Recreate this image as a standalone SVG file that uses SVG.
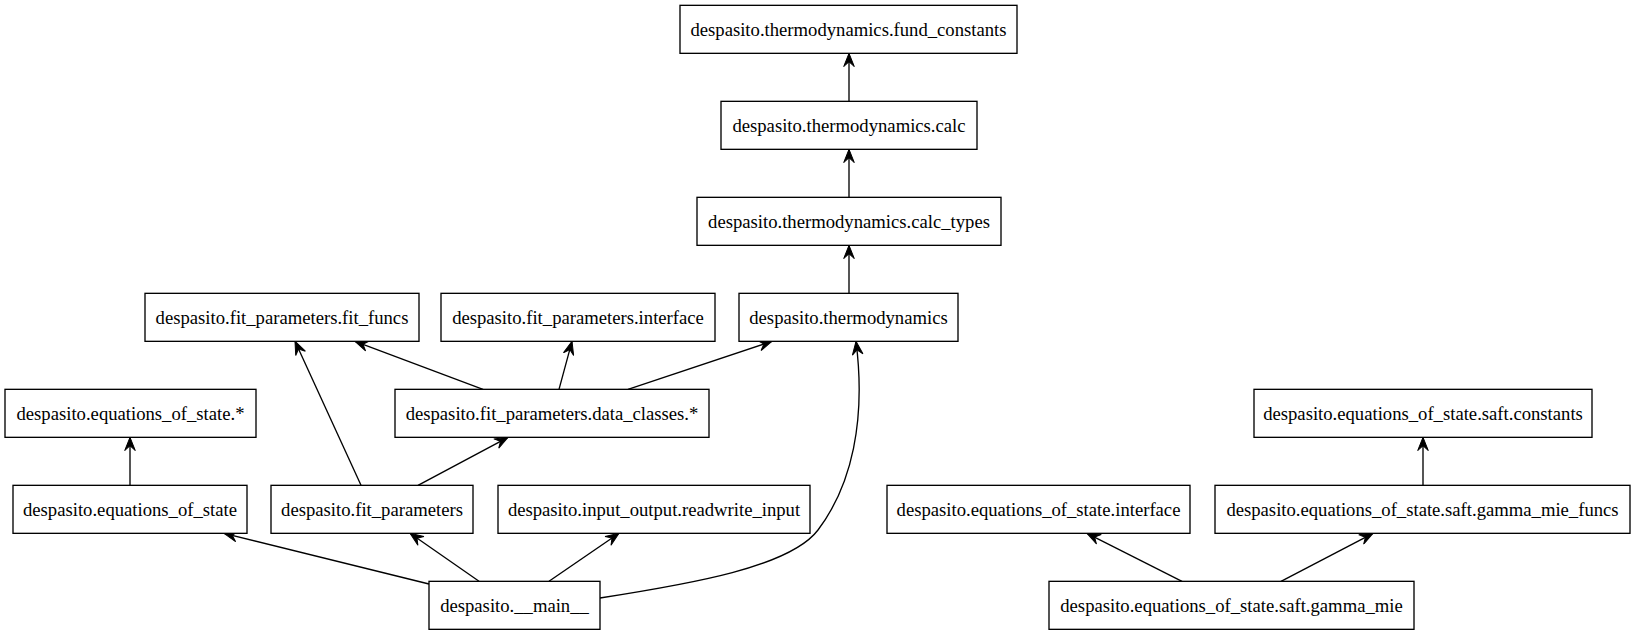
<svg xmlns="http://www.w3.org/2000/svg" width="1636" height="635" viewBox="0 0 1636 635">
<style>
.n rect{fill:#fff;stroke:#000;stroke-width:1.33}
.n text{font-family:"Liberation Serif","Times New Roman",serif;font-size:18.67px;text-anchor:middle;fill:#000}
.e path{fill:none;stroke:#000;stroke-width:1.33;marker-end:url(#v)}
</style>
<defs>
<marker id="v" markerUnits="userSpaceOnUse" viewBox="-14 -6 15 12" refX="0" refY="0" markerWidth="15" markerHeight="12" orient="auto">
<path d="M0,0 L-13.3,-5.3 L-8.5,0 L-13.3,5.3 Z" fill="#000" stroke="#000" stroke-width="1"/>
</marker>
</defs>
<rect width="1636" height="635" fill="#fff"/>
<g class="e">
<path d="M849,101.3 L849,53.3"/>
<path d="M849,197.3 L849,149.3"/>
<path d="M849,293.3 L849,245.3"/>
<path d="M483,389.3 L355,341.3"/>
<path d="M559,389.3 L572,341.3"/>
<path d="M628,389.3 L772,341.3"/>
<path d="M130,485.3 L130,437.3"/>
<path d="M361,485.3 L295,341.3"/>
<path d="M418,485.3 L508,437.3"/>
<path d="M429,584 L224,533.3"/>
<path d="M479,581.3 L410,533.3"/>
<path d="M549,581.3 L619,533.3"/>
<path d="M600,598 C690,584 790,567 818,530 C852,485 866,420 856,341.3"/>
<path d="M1182,581.3 L1087,533.3"/>
<path d="M1281,581.3 L1373,533.3"/>
<path d="M1423,485.3 L1423,437.3"/>
</g>
<g id="n1" class="n"><rect x="680" y="5.33" width="337" height="48"/><text x="848.5" y="35.5">despasito.thermodynamics.fund_constants</text></g>
<g id="n2" class="n"><rect x="721" y="101.33" width="256" height="48"/><text x="849" y="131.5">despasito.thermodynamics.calc</text></g>
<g id="n3" class="n"><rect x="697" y="197.33" width="304" height="48"/><text x="849" y="227.5">despasito.thermodynamics.calc_types</text></g>
<g id="n4" class="n"><rect x="739" y="293.33" width="219" height="48"/><text x="848.5" y="323.5">despasito.thermodynamics</text></g>
<g id="n5" class="n"><rect x="145" y="293.33" width="274" height="48"/><text x="282" y="323.5">despasito.fit_parameters.fit_funcs</text></g>
<g id="n6" class="n"><rect x="441" y="293.33" width="274" height="48"/><text x="578" y="323.5">despasito.fit_parameters.interface</text></g>
<g id="n7" class="n"><rect x="5" y="389.33" width="251" height="48"/><text x="130.5" y="419.5">despasito.equations_of_state.*</text></g>
<g id="n8" class="n"><rect x="395" y="389.33" width="314" height="48"/><text x="552" y="419.5">despasito.fit_parameters.data_classes.*</text></g>
<g id="n9" class="n"><rect x="13" y="485.33" width="234" height="48"/><text x="130" y="515.5">despasito.equations_of_state</text></g>
<g id="n10" class="n"><rect x="271" y="485.33" width="202" height="48"/><text x="372" y="515.5">despasito.fit_parameters</text></g>
<g id="n11" class="n"><rect x="498" y="485.33" width="312" height="48"/><text x="654" y="515.5">despasito.input_output.readwrite_input</text></g>
<g id="n12" class="n"><rect x="429" y="581.33" width="171" height="48"/><text x="514.5" y="611.5">despasito.__main__</text></g>
<g id="n13" class="n"><rect x="887" y="485.33" width="303" height="48"/><text x="1038.5" y="515.5">despasito.equations_of_state.interface</text></g>
<g id="n14" class="n"><rect x="1254" y="389.33" width="338" height="48"/><text x="1423" y="419.5">despasito.equations_of_state.saft.constants</text></g>
<g id="n15" class="n"><rect x="1215" y="485.33" width="415" height="48"/><text x="1422.5" y="515.5">despasito.equations_of_state.saft.gamma_mie_funcs</text></g>
<g id="n16" class="n"><rect x="1049" y="581.33" width="365" height="48"/><text x="1231.5" y="611.5">despasito.equations_of_state.saft.gamma_mie</text></g>
</svg>
